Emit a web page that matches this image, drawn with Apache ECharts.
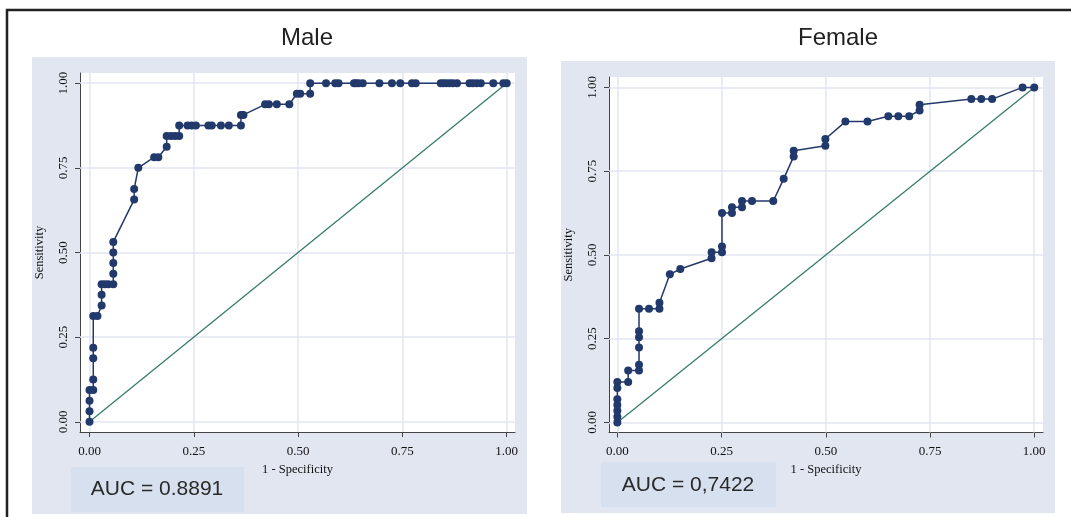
<!DOCTYPE html>
<html>
<head>
<meta charset="utf-8">
<style>html,body{margin:0;padding:0;background:#fff;}#c{width:1071px;height:517px;}</style>
<script src="https://cdn.jsdelivr.net/npm/echarts@6/dist/echarts.min.js"></script>
</head>
<body>
<div id="c"></div>
<script>
// ---- data ----
const panelTitles = ['Male', 'Female'];
const aucLabels = ['AUC = 0.8891', 'AUC = 0,7422'];
const tickValues = [0, 0.25, 0.5, 0.75, 1];
const tickLabels = ['0.00', '0.25', '0.50', '0.75', '1.00'];
const xAxisTitle = '1 - Specificity';
const yAxisTitle = 'Sensitivity';

const maleFPR = [0, 0, 0, 0, 0.009, 0.009, 0.009, 0.009, 0.009, 0.019, 0.029, 0.029, 0.029, 0.037, 0.045, 0.057, 0.057, 0.057, 0.057, 0.057,
  0.107, 0.107, 0.117, 0.155, 0.165, 0.185, 0.185, 0.195, 0.205, 0.215, 0.215, 0.235, 0.245, 0.255, 0.285, 0.293, 0.315, 0.334, 0.363,
  0.363, 0.369, 0.421, 0.43, 0.449, 0.479, 0.497, 0.505, 0.529, 0.529,
  0.567, 0.589, 0.597, 0.634, 0.639, 0.645, 0.655, 0.695, 0.725, 0.745, 0.773, 0.782, 0.842, 0.848, 0.855, 0.863, 0.871, 0.881,
  0.911, 0.919, 0.928, 0.938, 0.968, 0.992, 1.0];
const maleTPR = [0, 0.03125, 0.0625, 0.09375, 0.09375, 0.125, 0.1875, 0.21875, 0.3125, 0.3125, 0.34375, 0.375, 0.40625, 0.40625, 0.40625, 0.40625, 0.4375, 0.46875, 0.5, 0.53125,
  0.65625, 0.6875, 0.75, 0.78125, 0.78125, 0.8125, 0.84375, 0.84375, 0.84375, 0.84375, 0.875, 0.875, 0.875, 0.875, 0.875, 0.875, 0.875, 0.875, 0.875,
  0.90625, 0.90625, 0.9375, 0.9375, 0.9375, 0.9375, 0.96875, 0.96875, 0.96875, 1,
  1, 1, 1, 1, 1, 1, 1, 1, 1, 1, 1, 1, 1, 1, 1, 1, 1, 1,
  1, 1, 1, 1, 1, 1, 1];

const femaleFPR = [0, 0, 0, 0, 0, 0, 0, 0.026, 0.026, 0.052, 0.052, 0.052, 0.052, 0.052, 0.052, 0.076, 0.101, 0.101, 0.126, 0.151,
  0.226, 0.226, 0.251, 0.251, 0.251, 0.275, 0.275, 0.299, 0.299, 0.323, 0.374, 0.399, 0.423, 0.423, 0.499, 0.499,
  0.547, 0.6, 0.65, 0.674, 0.7, 0.725, 0.725, 0.849, 0.873, 0.899, 0.972, 1.0];
const femaleTPR = [0, 0.017, 0.035, 0.052, 0.069, 0.103, 0.121, 0.121, 0.155, 0.155, 0.172, 0.224, 0.254, 0.272, 0.339, 0.339, 0.339, 0.357, 0.442, 0.458,
  0.49, 0.508, 0.508, 0.525, 0.625, 0.625, 0.642, 0.642, 0.661, 0.661, 0.661, 0.727, 0.794, 0.811, 0.826, 0.846,
  0.898, 0.898, 0.914, 0.914, 0.914, 0.931, 0.948, 0.965, 0.965, 0.965, 1, 1];

const refLine = [[0, 0], [1, 1]];

// ---- styling ----
const NAVY = '#22396b';
const GREEN = '#367c6c';
const PANEL = '#e1e6f0';
const AUCBOX = '#d6e0ef';
const GRIDC = '#e2e6f1';
const SERIF = 'Liberation Serif';
const SANS = 'Liberation Sans';

function zip(a, b) { return a.map((v, i) => [v, b[i]]); }

const chart = echarts.init(document.getElementById('c'), null, { renderer: 'canvas' });

const grids = [
  { left: 80, top: 73, width: 435, height: 359, show: true, backgroundColor: '#fff', borderWidth: 0 },
  { left: 609, top: 77, width: 434, height: 355.5, show: true, backgroundColor: '#fff', borderWidth: 0 }
];
const xRanges = [[-0.0228, 1.02], [-0.02, 1.021]];
const yRanges = [[-0.030, 1.030], [-0.030, 1.031]];

function fmt(v) { return tickLabels[tickValues.indexOf(+(+v).toFixed(2))] || ''; }

function xAxisFor(i) {
  return {
    type: 'value', gridIndex: i, min: xRanges[i][0], max: xRanges[i][1],
    name: xAxisTitle, nameLocation: 'middle', nameGap: 28,
    nameTextStyle: { fontFamily: SERIF, fontSize: 12.5, color: '#111' },
    axisLine: { show: true, onZero: false, lineStyle: { color: '#444', width: 1 } },
    axisTick: { show: true, length: 5, customValues: tickValues, lineStyle: { color: '#444' } },
    axisLabel: { customValues: tickValues, margin: 13, fontFamily: SERIF, fontSize: 13, color: '#111', formatter: fmt },
    splitLine: { show: false }
  };
}
function yAxisFor(i) {
  return {
    type: 'value', gridIndex: i, min: yRanges[i][0], max: yRanges[i][1],
    name: yAxisTitle, nameLocation: 'middle', nameGap: 34,
    nameTextStyle: { fontFamily: SERIF, fontSize: 12.5, color: '#111' },
    axisLine: { show: true, onZero: false, lineStyle: { color: '#444', width: 1 } },
    axisTick: { show: true, length: 5, customValues: tickValues, lineStyle: { color: '#444' } },
    axisLabel: { customValues: tickValues, margin: 10, rotate: 90, fontFamily: SERIF, fontSize: 13, color: '#111', formatter: fmt },
    splitLine: { show: false }
  };
}

function gridLinesSeries(i) {
  const d = [];
  tickValues.forEach(v => { d.push({ xAxis: v }); d.push({ yAxis: v }); });
  return {
    type: 'line', xAxisIndex: i, yAxisIndex: i, data: [], z: 1, silent: true,
    markLine: {
      z: 1, silent: true, symbol: ['none', 'none'], animation: false,
      label: { show: false },
      emphasis: { disabled: true },
      lineStyle: { color: GRIDC, width: 1.5, type: 'solid' },
      data: d
    }
  };
}

const series = [];
[0, 1].forEach(i => {
  series.push(gridLinesSeries(i));
  series.push({
    type: 'line', xAxisIndex: i, yAxisIndex: i, data: refLine, showSymbol: false, z: 3,
    lineStyle: { color: GREEN, width: 1.3 }, animation: false, silent: true
  });
  series.push({
    type: 'line', xAxisIndex: i, yAxisIndex: i,
    data: i === 0 ? zip(maleFPR, maleTPR) : zip(femaleFPR, femaleTPR),
    symbol: 'circle', symbolSize: 8, showSymbol: true, showAllSymbol: true, z: 4,
    itemStyle: { color: NAVY },
    lineStyle: { color: NAVY, width: 1.5 }, animation: false, silent: true
  });
});

const graphic = [
  { type: 'rect', z: -10, shape: { x: 32, y: 57, width: 495, height: 457 }, style: { fill: PANEL } },
  { type: 'rect', z: -10, shape: { x: 561, y: 61, width: 494, height: 452 }, style: { fill: PANEL } },
  { type: 'rect', z: 5, shape: { x: 71, y: 467, width: 173, height: 45 }, style: { fill: AUCBOX } },
  { type: 'rect', z: 5, shape: { x: 601, y: 462, width: 175, height: 45 }, style: { fill: AUCBOX } },
  { type: 'text', z: 6, x: 157, y: 489, style: { text: aucLabels[0], fontFamily: SANS, fontSize: 21, fill: '#2a2a2a', align: 'center', verticalAlign: 'middle' } },
  { type: 'text', z: 6, x: 688, y: 485, style: { text: aucLabels[1], fontFamily: SANS, fontSize: 21, fill: '#2a2a2a', align: 'center', verticalAlign: 'middle' } },
  { type: 'text', z: 6, x: 307, y: 38, style: { text: panelTitles[0], fontFamily: SANS, fontSize: 24, fill: '#222', align: 'center', verticalAlign: 'middle' } },
  { type: 'text', z: 6, x: 838, y: 38, style: { text: panelTitles[1], fontFamily: SANS, fontSize: 24, fill: '#222', align: 'center', verticalAlign: 'middle' } },
  { type: 'polyline', z: 10, shape: { points: [[7, 520], [7, 10], [1075, 10]] }, style: { stroke: '#222', lineWidth: 2.5, fill: null } }
];

chart.setOption({
  animation: false,
  backgroundColor: '#fff',
  grid: grids,
  xAxis: [xAxisFor(0), xAxisFor(1)],
  yAxis: [yAxisFor(0), yAxisFor(1)],
  series: series,
  graphic: graphic
});
</script>
</body>
</html>
